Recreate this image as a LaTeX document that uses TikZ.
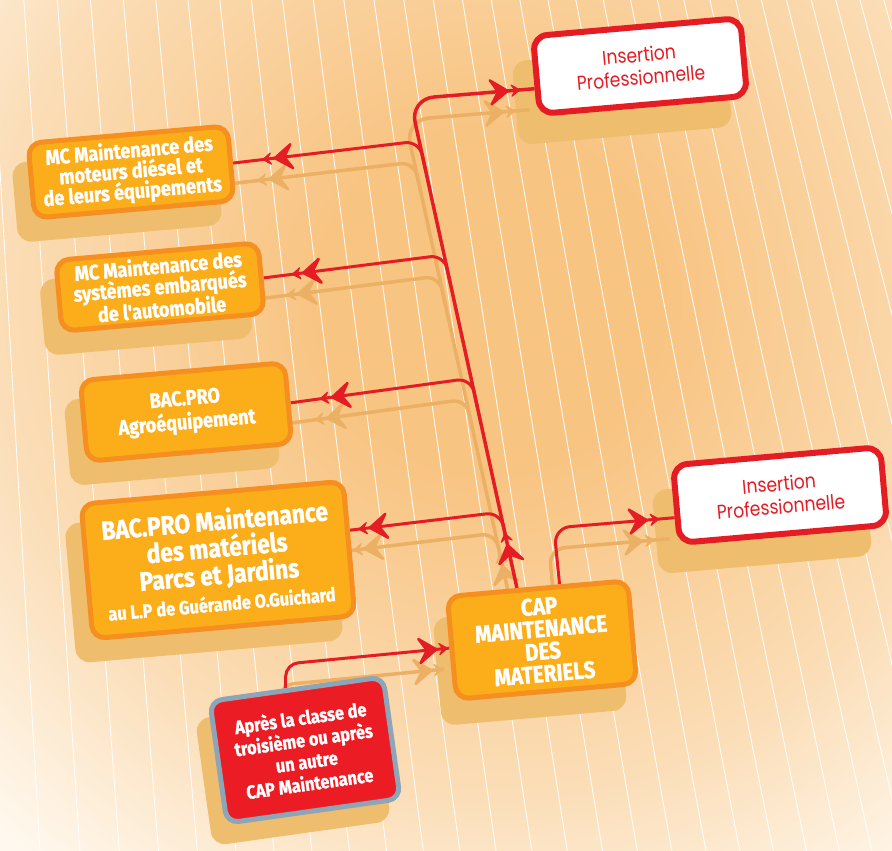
\documentclass[tikz,border=0pt]{standalone}
\usepackage{fontspec}
\usetikzlibrary{calc,decorations.markings}
\newfontfamily\boxfont[FakeStretch=0.86, BoldFeatures={FakeBold=1.3}]{Fira Sans}
\newfontfamily\insfont[FakeStretch=0.86]{Poppins}
\definecolor{bgA}{HTML}{F8C482}
\definecolor{bgB}{HTML}{FBDDB6}
\definecolor{bgC}{HTML}{FFF8EE}
\definecolor{boxF}{HTML}{FBAE1A}
\definecolor{boxD}{HTML}{F58F1F}
\definecolor{shC}{HTML}{EFBD6E}
\definecolor{redC}{HTML}{E41D25}
\definecolor{redF}{HTML}{EC1C24}
\definecolor{steel}{HTML}{8EA5B7}
\definecolor{lnSh}{HTML}{EBB064}
\pgfdeclareradialshading{bgshade}{\pgfpoint{0bp}{0bp}}{color(0bp)=(bgA); color(6bp)=(bgA); color(17bp)=(bgB); color(25bp)=(bgC); color(50bp)=(bgC)}
\pgfdeclarelayer{bg}
\pgfdeclarelayer{lines}
\pgfsetlayers{bg,lines,main}
\newcommand{\shadowof}[3]{\fill[shC, rounded corners=14pt, transform canvas={shift={(#2,#3)}}] (#1.north west) -- (#1.north east) -- (#1.south east) -- (#1.south west) -- cycle;}
\newcommand{\bigchev}{\filldraw[sharp corners, line width=2.5pt, line join=round] (0,0) -- (-17,-12) -- (-9.5,0) -- (-17,12) -- cycle;}
\newcommand{\smallchev}{\filldraw[sharp corners, line width=1.2pt, line join=round] (0,0) -- (-8,-5.5) -- (-4.5,0) -- (-8,5.5) -- cycle;}
\newcommand{\allconnectors}{%
  \draw[cn, line width=3.5pt, rounded corners=24pt, tipsfour={44pt}{56pt}{-27pt}{-15pt}] (tb) -- (tt) -- (ie1);
  \draw[cn, rounded corners=14pt, tips={-42pt}{-30pt}] (j1) -- (c1) -- (mc1.east);
  \draw[cn, rounded corners=14pt, tips={-40pt}{-29pt}] (j2) -- (c2) -- (mc2.east);
  \draw[cn, rounded corners=14pt, tips={-42pt}{-30pt}] (j3) -- (c3) -- (bac1.east);
  \draw[cn, rounded corners=14pt, tips={-20pt}{-9pt}] (j4) -- (c4) -- (e4);
  \draw[cn, rounded corners=16pt, tips={-28pt}{-16pt}] (rb) -- (rc) -- (ie2);
  \draw[cn, rounded corners=12pt, tips={-13pt}{-2pt}] (pb) -- (pc) -- (cap.west);
}
\begin{document}
\begin{tikzpicture}[x=1pt,y=-1pt,
  obox/.style={draw=boxD, fill=boxF, line width=5pt, rounded corners=13pt, rotate=5, text=white, align=center, inner sep=2pt, font=\boxfont\bfseries\fontsize{21}{20.5}\selectfont},
  insbox/.style={draw=redC, fill=white, line width=6pt, rounded corners=14pt, rotate=5, text=redC, align=center, minimum width=208pt, minimum height=78pt, font=\insfont\fontsize{20}{23}\selectfont},
  rbox/.style={draw=steel, fill=redF, line width=5pt, rounded corners=12pt, rotate=8, text=white, align=center, font=\boxfont\bfseries\fontsize{19}{22}\selectfont},
  cn/.style={},
  lnred/.style={draw=redC, color=redC, line width=3pt},
  lnshadow/.style={draw=lnSh, color=lnSh, line width=3.5pt},
  tips/.style 2 args={postaction={decorate,decoration={markings,
     mark=at position #1 with {\bigchev},
     mark=at position #2 with {\smallchev}}}},
  tipsfour/.style n args={4}{postaction={decorate,decoration={markings,
     mark=at position #1 with {\bigchev},
     mark=at position #2 with {\smallchev},
     mark=at position #3 with {\bigchev},
     mark=at position #4 with {\smallchev}}}},
]
\useasboundingbox (0,0) rectangle (892,851);

% ---------- nodes ----------
\node[obox, minimum width=200pt, minimum height=75pt] (mc1) at (131,172) {MC Maintenance des\\moteurs diésel et\\de leurs équipements};
\node[obox, minimum width=203pt, minimum height=71pt] (mc2) at (160,287) {MC Maintenance des\\systèmes embarqués\\de l'automobile};
\node[obox, minimum width=205pt, minimum height=81pt, font=\boxfont\bfseries\fontsize{21}{24}\selectfont] (bac1) at (186,412) {BAC.PRO\\Agroéquipement};
\node[obox, minimum width=263pt, minimum height=135pt, font=\boxfont\bfseries\fontsize{26.5}{27}\selectfont] (bac2) at (218,560) {BAC.PRO Maintenance\\des matériels\\Parcs et Jardins\\{\fontsize{19}{19}\selectfont au L.P de Guérande O.Guichard}};
\node[obox, minimum width=181pt, minimum height=103pt, font=\boxfont\bfseries\fontsize{24}{22.5}\selectfont] (cap) at (542,640) {CAP\\MAINTENANCE\\DES\\MATERIELS};
\node[rbox, minimum width=175pt, minimum height=123pt] (prev) at (305,750) {Après la classe de\\troisième ou après\\un autre\\CAP Maintenance};
\node[insbox] (ins1) at (640,66) {Insertion\\Professionnelle};
\node[insbox] (ins2) at (780,495) {Insertion\\Professionnelle};

% ---------- background ----------
\begin{pgfonlayer}{bg}
  \begin{scope}
    \clip (0,0) rectangle (892,851);
    \shade[shading=bgshade] (-230,-420) rectangle (1210,1020);
    \foreach \i in {-1,...,33}
      \draw[white, line width=0.9pt, opacity=0.9] ({-10+34*(\i)-(\i)*(\i)/6},0) -- ({40+40*(\i)-(\i)*(\i)/6},851);
  \end{scope}
  \shadowof{mc1}{-14pt}{-22pt}
  \shadowof{mc2}{-14pt}{-22pt}
  \shadowof{bac1}{-14pt}{-22pt}
  \shadowof{bac2}{-14pt}{-22pt}
  \shadowof{cap}{-12pt}{-24pt}
  \shadowof{prev}{-12pt}{-20pt}
  \shadowof{ins1}{-18pt}{-28pt}
  \shadowof{ins2}{-18pt}{-28pt}
\end{pgfonlayer}

% ---------- connector coordinates ----------
\coordinate (tb) at ($(cap.north west)!0.39!(cap.north east)$);
\coordinate (tt) at (410,99);
\coordinate (ie1) at ($(ins1.north west)!0.66!(ins1.south west)$);
\coordinate (c1) at ($(tb)!0.914!(tt)$);
\coordinate (j1) at ($(tb)!0.855!(tt)$);
\coordinate (c2) at ($(tb)!0.681!(tt)$);
\coordinate (j2) at ($(tb)!0.620!(tt)$);
\coordinate (c3) at ($(tb)!0.429!(tt)$);
\coordinate (j3) at ($(tb)!0.368!(tt)$);
\coordinate (c4) at ($(tb)!0.155!(tt)$);
\coordinate (j4) at ($(tb)!0.108!(tt)$);
\coordinate (e4) at ($(bac2.north east)!0.37!(bac2.south east)$);
\coordinate (rb) at ($(cap.north west)!0.62!(cap.north east)$);
\coordinate (rc) at (554,528);
\coordinate (ie2) at ($(ins2.north west)!0.66!(ins2.south west)$);
\coordinate (pb) at ($(prev.north west)!0.44!(prev.north east)$);
\coordinate (pc) at (286,664);

% ---------- connectors ----------
\begin{pgfonlayer}{lines}
  \begin{scope}[transform canvas={shift={(-5pt,-21pt)}}, cn/.style={lnshadow}]
    \allconnectors
  \end{scope}
  \begin{scope}[cn/.style={lnred}]
    \allconnectors
  \end{scope}
\end{pgfonlayer}
\end{tikzpicture}
\end{document}
